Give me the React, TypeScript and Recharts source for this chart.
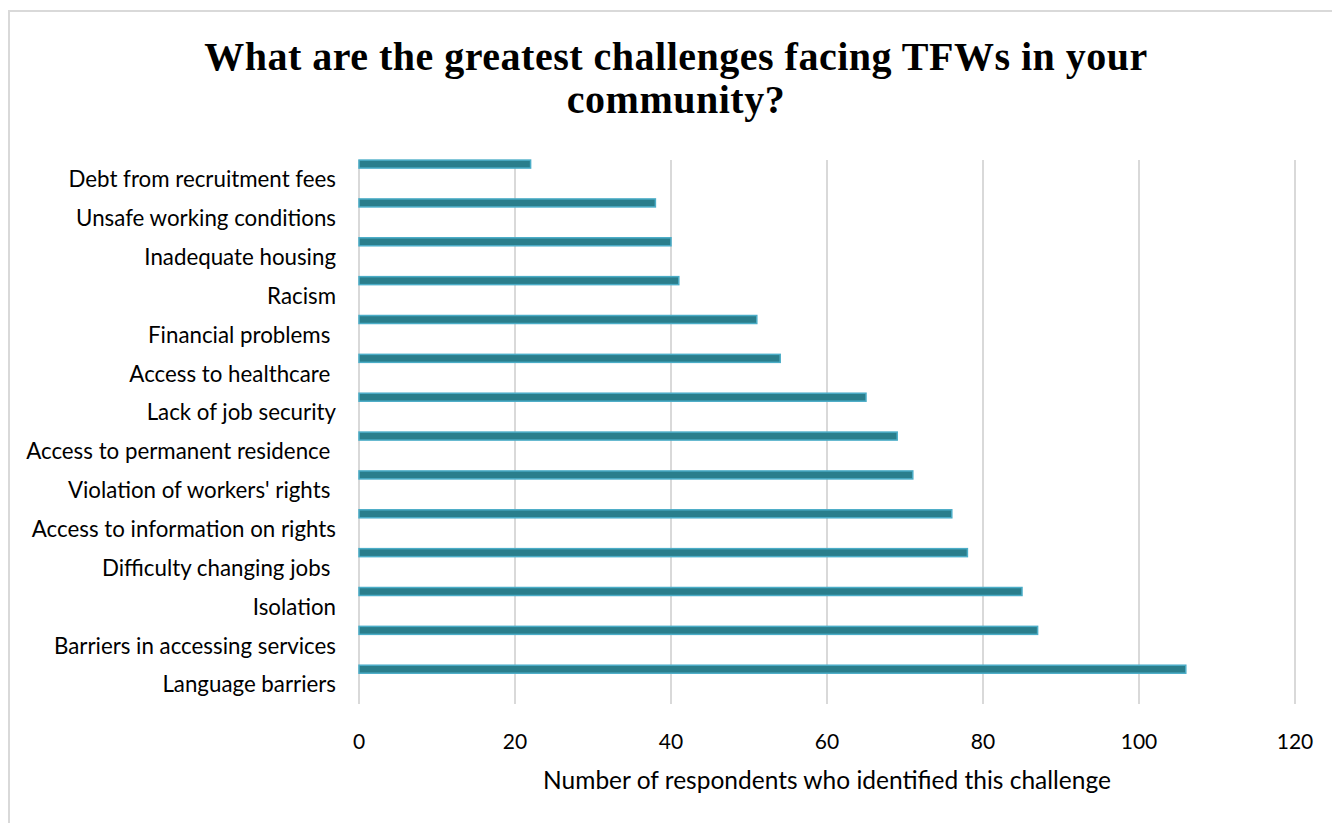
import React from "react";
import { BarChart, Bar, XAxis, YAxis, CartesianGrid, Label } from "recharts";

const categories = [
  "Debt from recruitment fees",
  "Unsafe working conditions",
  "Inadequate housing",
  "Racism",
  "Financial problems ",
  "Access to healthcare ",
  "Lack of job security",
  "Access to permanent residence ",
  "Violation of workers' rights ",
  "Access to information on rights",
  "Difficulty changing jobs ",
  "Isolation",
  "Barriers in accessing services",
  "Language barriers",
];

const respondents = [22, 38, 40, 41, 51, 54, 65, 69, 71, 76, 78, 85, 87, 106];

const xTicks = [0, 20, 40, 60, 80, 100, 120];

const data = categories.map((name, i) => ({ name, count: respondents[i] }));

const labelFont = "Lato, 'Open Sans', sans-serif";

const PLOT_TOP = 160;
const PLOT_BOTTOM = 704;
const BAR_SIZE = 8;

// Excel-style: the bar sits at the top of its category band
function TopBar(props: any) {
  const { x, y, width, height } = props;
  if (!width || width <= 0) return null;
  const band = (PLOT_BOTTOM - PLOT_TOP) / categories.length;
  const top = y - (band - BAR_SIZE) / 2;
  return (
    <rect
      x={x}
      y={top + 0.5}
      width={width}
      height={height}
      fill="#2a7e8c"
      stroke="#4badc7"
      strokeWidth={1.5}
    />
  );
}

function CategoryTick(props: any) {
  const { y, payload } = props;
  return (
    <text
      x={336}
      y={y}
      dy="0.35em"
      textAnchor="end"
      fontSize={22.3}
      fontFamily={labelFont}
      fill="#000"
      style={{ whiteSpace: "pre" }}
    >
      {payload.value}
    </text>
  );
}

export default function App() {
  return (
    <div style={{ position: "absolute", left: 0, top: 0, width: 1332, height: 823, background: "#fff", overflow: "hidden" }}>
      <div
        style={{
          position: "absolute",
          left: 8,
          top: 10,
          width: 1340,
          height: 830,
          borderTop: "2px solid #d9d9d9",
          borderLeft: "2px solid #d9d9d9",
        }}
      />
      <div
        style={{
          position: "absolute",
          left: 0,
          top: 35,
          width: 1352,
          textAlign: "center",
          fontFamily: "'Liberation Serif', 'DejaVu Serif', serif",
          fontWeight: "bold",
          fontSize: 40,
          letterSpacing: 0.5,
          lineHeight: "43px",
          color: "#000",
        }}
      >
        What are the greatest challenges facing TFWs in your
        <br />
        community?
      </div>
      <div style={{ position: "absolute", left: 0, top: 0 }}>
        <BarChart
          width={1332}
          height={823}
          data={data}
          layout="vertical"
          margin={{ top: PLOT_TOP, right: 37, bottom: 29, left: 0 }}
          barSize={BAR_SIZE}
        >
          <CartesianGrid horizontal={false} stroke="#d9d9d9" strokeWidth={2} />
          <XAxis
            type="number"
            domain={[0, 120]}
            ticks={xTicks}
            axisLine={false}
            tickLine={false}
            tickMargin={24}
            height={90}
            tick={{ fontSize: 21, fontFamily: labelFont, fill: "#000" }}
          >
            <Label
              value="Number of respondents who identified this challenge"
              position="insideBottom"
              offset={5}
              style={{ fontSize: 24.5, fontFamily: labelFont, fill: "#000" }}
            />
          </XAxis>
          <YAxis
            type="category"
            dataKey="name"
            width={359}
            axisLine={false}
            tickLine={false}
            interval={0}
            tick={<CategoryTick />}
          />
          <Bar dataKey="count" shape={<TopBar />} isAnimationActive={false} />
        </BarChart>
      </div>
    </div>
  );
}
